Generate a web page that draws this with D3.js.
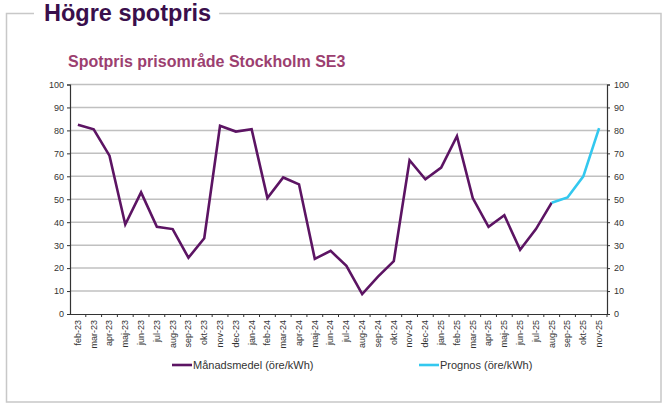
<!DOCTYPE html>
<html>
<head>
<meta charset="utf-8">
<script src="https://cdn.jsdelivr.net/npm/d3@7"></script>
<style>
body{margin:0;background:#fff;}
text{font-family:Arial,"Liberation Sans",sans-serif;}
</style>
</head>
<body>
<svg id="graph" width="666" height="412"></svg>
<script>
// Données
var manader = ["feb-23","mar-23","apr-23","maj-23","jun-23","jul-23","aug-23","sep-23","okt-23","nov-23","dec-23",
  "jan-24","feb-24","mar-24","apr-24","maj-24","jun-24","jul-24","aug-24","sep-24","okt-24","nov-24","dec-24",
  "jan-25","feb-25","mar-25","apr-25","maj-25","jun-25","jul-25","aug-25","sep-25","okt-25","nov-25"];
var manadsmedel = [82.5,80.5,69,39,53,38,37,24.5,33,82,79.5,80.5,50.5,59.5,56.5,24,27.5,21,8.7,16.3,23,
  67,58.7,63.8,77.5,50.5,38,43,28,37,48.5];
var prognosManader = ["aug-25","sep-25","okt-25","nov-25"];
var prognos = [48.5,50.8,60,81];
var yTicks = [0,10,20,30,40,50,60,70,80,90,100];

var titel = "Högre spotpris";
var diagramTitel = "Spotpris prisområde Stockholm SE3";
var legendNamn = ["Månadsmedel (öre/kWh)","Prognos (öre/kWh)"];

var svg = d3.select("#graph");

// titre + cadre
var t = svg.append("text").attr("x",44).attr("y",21)
  .attr("font-size",23.5).attr("font-weight","bold").attr("fill","#3a0f4c").text(titel);
var tEnd = 44 + t.node().getComputedTextLength() + 8;
svg.append("path")
  .attr("d","M34,13.5 H6.5 V402 H661 V13.5 H"+tEnd)
  .attr("fill","none").attr("stroke","#c8c8c8").attr("stroke-width",1.5);

svg.append("text").attr("x",68).attr("y",67)
  .attr("font-size",16).attr("font-weight","bold").attr("fill","#9c3f70").text(diagramTitel);

// échelles
var scaleX = d3.scaleBand().domain(manader).range([70,607]);
var scaleY = d3.scaleLinear().domain([0,100]).range([314,84.5]);

// grille
svg.append("g").selectAll("line").data(yTicks.slice(1)).join("line")
  .attr("x1",70).attr("x2",607)
  .attr("y1",function(d){return scaleY(d);}).attr("y2",function(d){return scaleY(d);})
  .attr("stroke","#c0c0c0").attr("stroke-width",1.5);

// axes Y
var yAxisL = d3.axisLeft(scaleY).tickValues(yTicks).tickSize(3).tickPadding(3);
var gL = svg.append("g").attr("transform","translate(70,0)").call(yAxisL);
var yAxisR = d3.axisRight(scaleY).tickValues(yTicks).tickSize(3).tickPadding(4);
var gR = svg.append("g").attr("transform","translate(607,0)").call(yAxisR);

// axe X
var xAxis = d3.axisBottom(scaleX).tickSize(0).tickPadding(0);
var gX = svg.append("g").attr("transform","translate(0,314)").call(xAxis);
gX.selectAll("text")
  .attr("transform","rotate(-90)")
  .attr("x",-6).attr("y",0).attr("dy","0.32em")
  .style("text-anchor","end");
// petites marques entre les mois
gX.append("g").selectAll("line").data(manader).join("line")
  .attr("x1",function(d){return scaleX(d)+scaleX.bandwidth();})
  .attr("x2",function(d){return scaleX(d)+scaleX.bandwidth();})
  .attr("y1",0).attr("y2",3).attr("stroke","#333");

[gL,gR,gX].forEach(function(g){
  g.select(".domain").attr("stroke","#333").attr("stroke-width",1.2);
  g.selectAll(".tick line").attr("stroke","#333");
  g.selectAll("text").attr("font-size",9).attr("fill","#333").attr("font-family","Arial, 'Liberation Sans', sans-serif");
});

// courbes
var ligne = d3.line()
  .x(function(d){return scaleX(d[0])+scaleX.bandwidth()/2;})
  .y(function(d){return scaleY(d[1]);});

svg.append("path")
  .attr("d",ligne(manadsmedel.map(function(v,i){return [manader[i],v];})))
  .attr("fill","none").attr("stroke","#5c1463").attr("stroke-width",2.6).attr("stroke-linejoin","miter");
svg.append("path")
  .attr("d",ligne(prognos.map(function(v,i){return [prognosManader[i],v];})))
  .attr("fill","none").attr("stroke","#33c8ef").attr("stroke-width",2.6);

// légende
var leg = [{x:172,c:"#5c1463",n:legendNamn[0]},{x:419,c:"#33c8ef",n:legendNamn[1]}];
leg.forEach(function(l){
  svg.append("line").attr("x1",l.x).attr("x2",l.x+20).attr("y1",365).attr("y2",365)
    .attr("stroke",l.c).attr("stroke-width",2.6);
  svg.append("text").attr("x",l.x+21).attr("y",369).attr("font-size",11).attr("fill","#333").text(l.n);
});
</script>
</body>
</html>
